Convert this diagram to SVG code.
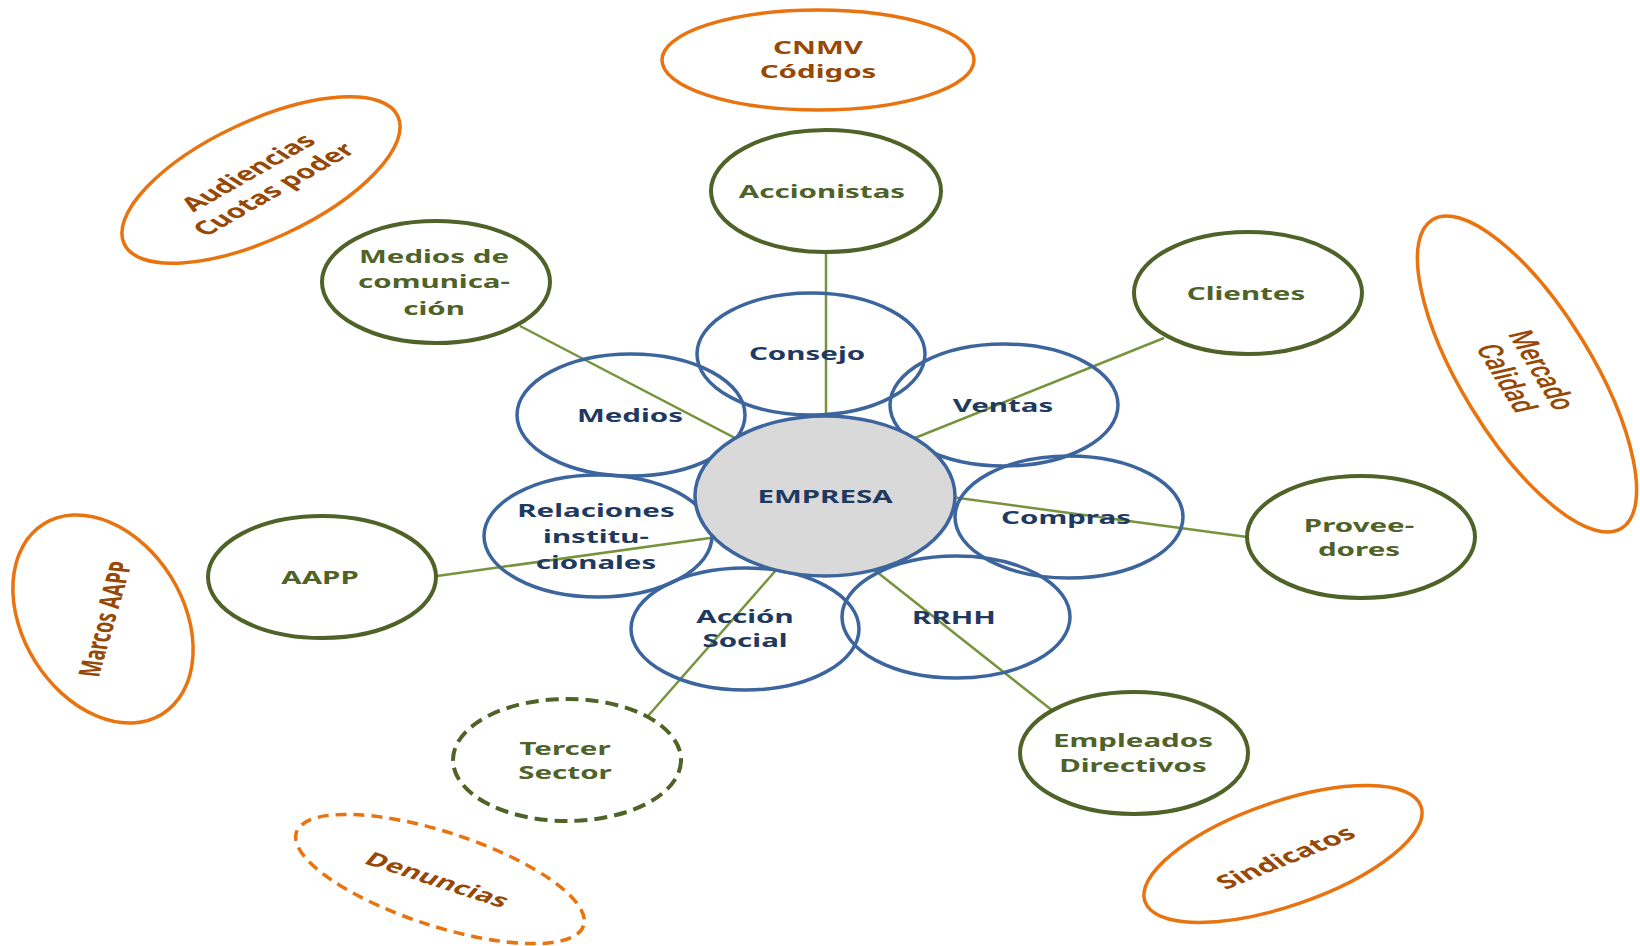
<svg xmlns="http://www.w3.org/2000/svg" width="1640" height="946" viewBox="0 0 1640 946">
<style>
.petal{fill:none;stroke:#3D659D;stroke-width:3.5}
.outer{fill:#ffffff;stroke:#4F6228;stroke-width:4}
.dashg{stroke-dasharray:13 7}
.orange{fill:#ffffff;stroke:#E8730F;stroke-width:3.5}
.dasho{stroke-dasharray:11 7}
.conn line{stroke:#77933C;stroke-width:2.5}
text{font-family:"Noto Sans","Open Sans","DejaVu Sans",sans-serif;font-weight:700;font-size:18px;text-anchor:middle}
.tb{fill:#1F3A60}
.tg{fill:#4F6228}
.to{fill:#974806}
.rob{font-family:Roboto,"Noto Sans",sans-serif;font-weight:500;font-size:21px}
</style>
<rect width="1640" height="946" fill="#ffffff"/>

<g id="connectors" class="conn">
<line x1="826" y1="252" x2="826" y2="496"/>
<line x1="520" y1="326" x2="825" y2="485"/>
<line x1="1164" y1="338" x2="825" y2="474"/>
<line x1="1247" y1="537" x2="825" y2="480"/>
<line x1="437" y1="576" x2="825" y2="522"/>
<line x1="648" y1="716" x2="841" y2="496"/>
<line x1="1053" y1="711" x2="825" y2="531"/>
</g>

<g id="consejo"><ellipse class="petal" cx="811" cy="354" rx="114" ry="61"/>
<text class="tb" transform="translate(807,360) scale(1.64,1)">Consejo</text></g>
<g id="medios"><ellipse class="petal" cx="631" cy="415" rx="114" ry="61"/>
<text class="tb" transform="translate(630,421.5) scale(1.64,1)">Medios</text></g>
<g id="ventas"><ellipse class="petal" cx="1004" cy="405" rx="114" ry="61"/>
<text class="tb" transform="translate(1003,411.5) scale(1.64,1)">Ventas</text></g>
<g id="relaciones"><ellipse class="petal" cx="598" cy="536" rx="114" ry="61"/>
<text class="tb" transform="translate(596,517) scale(1.64,1)"><tspan x="0" y="0">Relaciones</tspan><tspan x="0" y="26">institu-</tspan><tspan x="0" y="52.5">cionales</tspan></text></g>
<g id="compras"><ellipse class="petal" cx="1069" cy="517" rx="114" ry="61"/>
<text class="tb" transform="translate(1066,523.5) scale(1.64,1)">Compras</text></g>
<g id="accion-social"><ellipse class="petal" cx="745" cy="629" rx="114" ry="61"/>
<text class="tb" transform="translate(745,622.5) scale(1.64,1)"><tspan x="0" y="0">Acción</tspan><tspan x="0" y="25">Social</tspan></text></g>
<g id="rrhh"><ellipse class="petal" cx="956" cy="617" rx="114" ry="61"/>
<text class="tb" transform="translate(954,623.5) scale(1.64,1)">RRHH</text></g>

<g id="empresa"><ellipse cx="825" cy="496" rx="130" ry="80" fill="#D9D9D9" stroke="#3D659D" stroke-width="3.5"/>
<text class="tb" transform="translate(825,503) scale(1.64,1)">EMPRESA</text></g>

<g id="accionistas"><ellipse class="outer" cx="826" cy="191" rx="115" ry="61"/>
<text class="tg" transform="translate(822,198) scale(1.64,1)">Accionistas</text></g>
<g id="medios-comunicacion"><ellipse class="outer" cx="436" cy="282" rx="114" ry="61"/>
<text class="tg" transform="translate(434,262.5) scale(1.64,1)"><tspan x="0" y="0">Medios de</tspan><tspan x="0" y="26">comunica-</tspan><tspan x="0" y="52.5">ción</tspan></text></g>
<g id="clientes"><ellipse class="outer" cx="1248" cy="293" rx="114" ry="61"/>
<text class="tg" transform="translate(1246,299.5) scale(1.64,1)">Clientes</text></g>
<g id="aapp"><ellipse class="outer" cx="322" cy="577" rx="114" ry="61"/>
<text class="tg" transform="translate(320,584) scale(1.64,1)">AAPP</text></g>
<g id="proveedores"><ellipse class="outer" cx="1361" cy="537" rx="114" ry="61"/>
<text class="tg" transform="translate(1359,531.5) scale(1.64,1)"><tspan x="0" y="0">Provee-</tspan><tspan x="0" y="25">dores</tspan></text></g>
<g id="tercer-sector"><ellipse class="outer dashg" cx="567" cy="760" rx="114" ry="61"/>
<text class="tg" transform="translate(565,754.5) scale(1.64,1)"><tspan x="0" y="0">Tercer</tspan><tspan x="0" y="25">Sector</tspan></text></g>
<g id="empleados"><ellipse class="outer" cx="1134" cy="753" rx="114" ry="61"/>
<text class="tg" transform="translate(1133,747) scale(1.64,1)"><tspan x="0" y="0">Empleados</tspan><tspan x="0" y="25">Directivos</tspan></text></g>

<g id="cnmv"><ellipse class="orange" cx="818" cy="60" rx="156" ry="50"/>
<text class="to" transform="translate(818,53.5) scale(1.64,1)"><tspan x="0" y="0">CNMV</tspan><tspan x="0" y="25">Códigos</tspan></text></g>
<g id="audiencias"><ellipse class="orange" cx="261" cy="180" rx="151" ry="59" transform="rotate(-25 261 180)"/>
<text class="to" style="font-size:19px" transform="translate(261,181) scale(1.64,1) rotate(-43)"><tspan x="0" y="-5">Audiencias</tspan><tspan x="0" y="18">Cuotas poder</tspan></text></g>
<g id="mercado"><ellipse class="orange" cx="1527" cy="374" rx="181" ry="65" transform="rotate(58.5 1527 374)"/>
<text class="to rob" transform="translate(1525,374) scale(1.64,1) rotate(69.6)"><tspan x="0" y="-4">Mercado</tspan><tspan x="0" y="19">Calidad</tspan></text></g>
<g id="marcos"><ellipse class="orange" cx="103" cy="619" rx="112" ry="80" transform="rotate(58 103 619)"/>
<text class="to" dominant-baseline="central" transform="translate(104,619) scale(1.64,1) rotate(-80)">Marcos AAPP</text></g>
<g id="sindicatos"><ellipse class="orange" cx="1283" cy="854" rx="146" ry="52" transform="rotate(-19 1283 854)"/>
<text class="to" style="font-size:19px" dominant-baseline="central" transform="translate(1285,857) scale(1.64,1) rotate(-33.7)">Sindicatos</text></g>
<g id="denuncias"><ellipse class="orange dasho" cx="440" cy="879" rx="151" ry="47" transform="rotate(18 440 879)"/>
<text class="to" style="font-size:18.5px" dominant-baseline="central" transform="translate(438,879) scale(1.64,1) rotate(28)">Denuncias</text></g>
</svg>
